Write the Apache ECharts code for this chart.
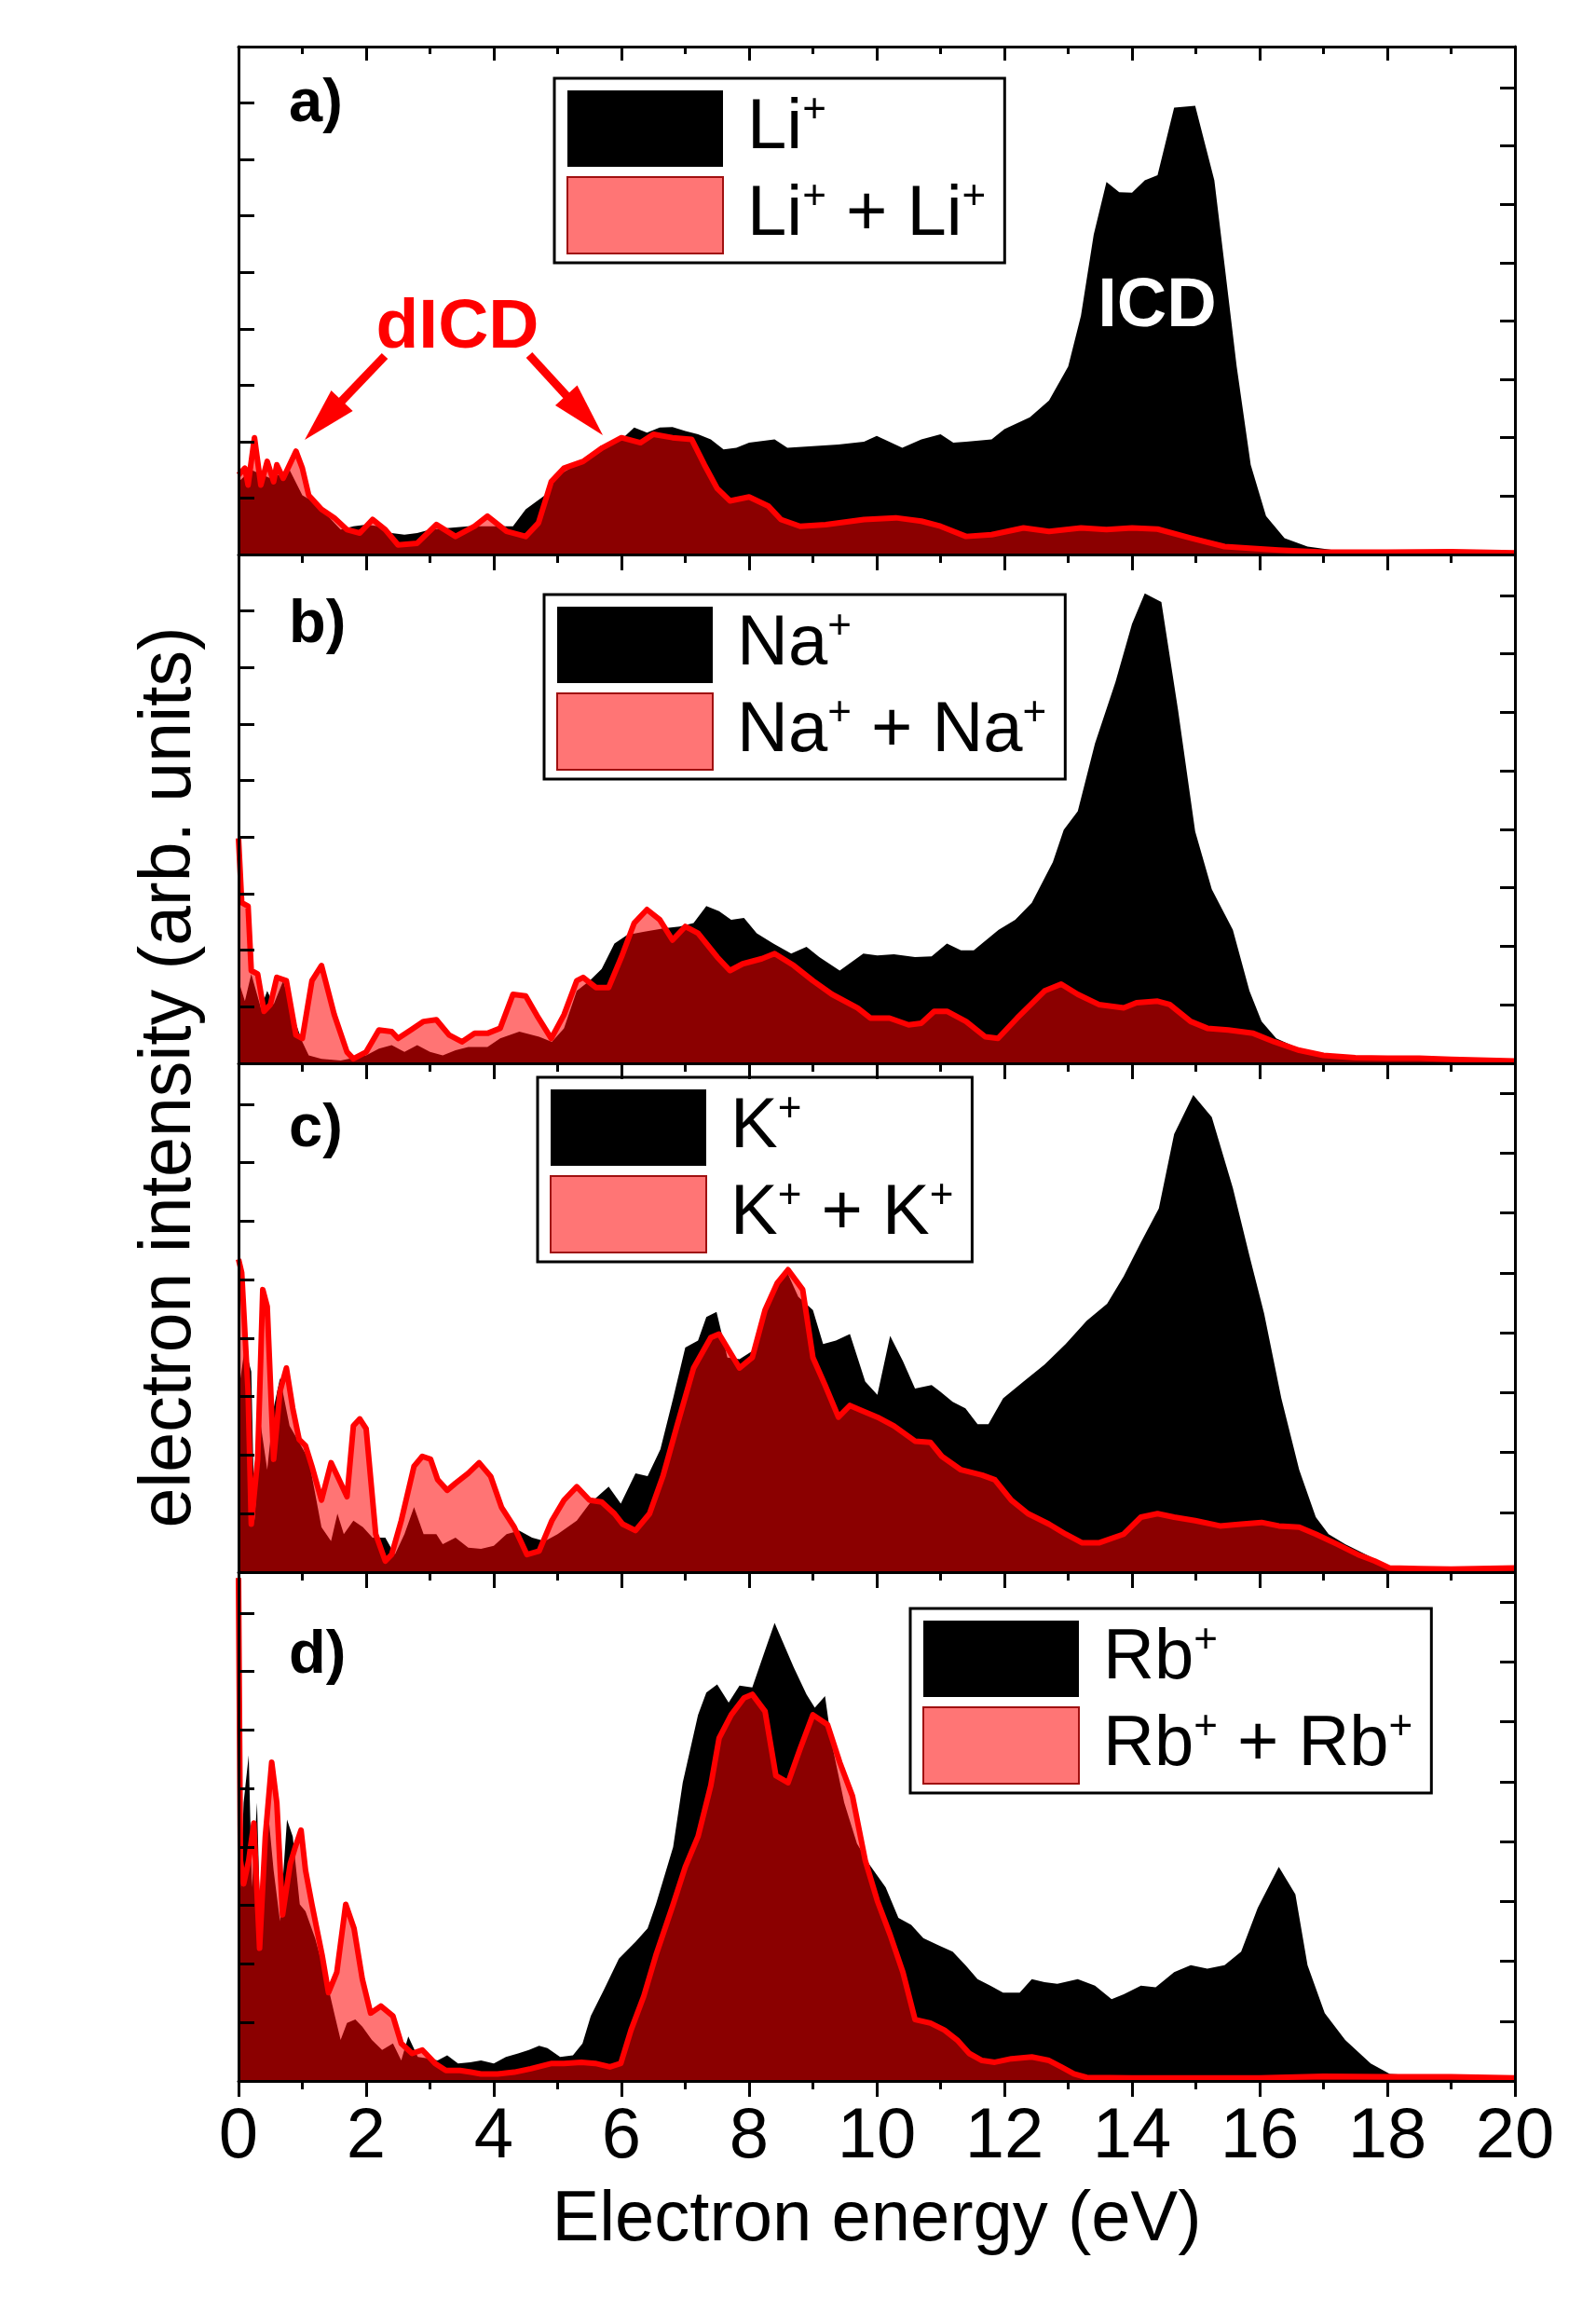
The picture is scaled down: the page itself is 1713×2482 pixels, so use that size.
<!DOCTYPE html>
<html>
<head>
<meta charset="utf-8">
<script src="https://cdn.jsdelivr.net/npm/echarts@6.0.0/dist/echarts.min.js"></script>
<style>
  html, body { margin: 0; padding: 0; background: #fff; }
  #chart { width: 1713px; height: 2482px; }
</style>
</head>
<body>
<div id="chart"></div>
<script>
// spectra, [electron energy (eV), intensity (arb. units)]
var liSingle = [[0,1.29],[0.2,1.5],[0.5,1.35],[0.8,1.5],[1.0,1.05],[1.2,0.92],[1.4,0.68],[1.6,0.44],[1.8,0.5],[2.0,0.53],[2.2,0.5],[2.4,0.38],[2.6,0.35],[2.8,0.38],[3.0,0.44],[3.3,0.47],[3.6,0.5],[4.0,0.5],[4.3,0.5],[4.5,0.8],[4.8,1.05],[5.0,1.4],[5.3,1.59],[5.6,1.8],[6.0,2.04],[6.2,2.25],[6.4,2.16],[6.6,2.25],[6.8,2.26],[7.0,2.19],[7.2,2.13],[7.4,2.04],[7.6,1.86],[7.8,1.89],[8.0,1.98],[8.4,2.04],[8.6,1.89],[9.0,1.92],[9.4,1.95],[9.8,2.0],[10.0,2.1],[10.4,1.89],[10.7,2.04],[11.0,2.13],[11.2,1.98],[11.4,2.0],[11.8,2.04],[12.0,2.22],[12.4,2.43],[12.7,2.73],[13.0,3.33],[13.2,4.23],[13.4,5.67],[13.6,6.6],[13.8,6.42],[14.0,6.41],[14.2,6.63],[14.4,6.72],[14.66,7.92],[14.99,7.95],[15.29,6.63],[15.45,5.13],[15.64,3.33],[15.86,1.59],[16.1,0.68],[16.39,0.29],[16.75,0.14],[17.15,0.08],[18,0.04],[20,0.04]];
var liPair = [[0,1.41],[0.1,1.53],[0.15,1.23],[0.25,2.07],[0.35,1.23],[0.45,1.65],[0.55,1.29],[0.6,1.59],[0.7,1.35],[0.9,1.83],[1.0,1.53],[1.1,1.05],[1.3,0.8],[1.5,0.65],[1.7,0.44],[1.9,0.38],[2.1,0.62],[2.3,0.44],[2.5,0.17],[2.8,0.2],[3.1,0.53],[3.4,0.32],[3.7,0.5],[3.9,0.68],[4.2,0.41],[4.5,0.32],[4.7,0.56],[4.9,1.29],[5.1,1.53],[5.4,1.65],[5.7,1.89],[6.0,2.07],[6.3,1.98],[6.5,2.13],[6.8,2.07],[7.1,2.04],[7.3,1.59],[7.5,1.17],[7.7,0.95],[8.0,1.02],[8.3,0.86],[8.5,0.62],[8.8,0.5],[9.2,0.53],[9.8,0.62],[10.3,0.65],[10.7,0.59],[11.0,0.5],[11.4,0.32],[11.8,0.35],[12.3,0.47],[12.7,0.41],[13.2,0.47],[13.6,0.44],[14.0,0.47],[14.4,0.45],[14.92,0.29],[15.45,0.14],[15.84,0.11],[16.3,0.08],[17,0.04],[18,0.04],[19,0.05],[20,0.03]];

var naSingle = [[0,1.46],[0.1,1.1],[0.2,1.58],[0.35,0.98],[0.45,1.28],[0.55,1.04],[0.7,1.46],[0.85,0.86],[1.0,0.38],[1.1,0.14],[1.3,0.08],[1.6,0.05],[2.0,0.14],[2.2,0.26],[2.4,0.32],[2.6,0.2],[2.8,0.32],[3.0,0.2],[3.2,0.14],[3.4,0.23],[3.6,0.29],[3.9,0.29],[4.1,0.44],[4.4,0.56],[4.71,0.47],[4.91,0.38],[5.1,0.62],[5.3,1.28],[5.5,1.46],[5.69,1.67],[5.89,2.12],[6.09,2.27],[6.36,2.33],[6.68,2.39],[6.91,2.42],[7.13,2.48],[7.33,2.78],[7.53,2.69],[7.72,2.54],[7.92,2.57],[8.12,2.3],[8.38,2.12],[8.66,1.94],[8.9,2.06],[9.1,1.88],[9.42,1.64],[9.79,1.94],[10.01,1.91],[10.27,1.93],[10.6,1.88],[10.86,1.89],[11.1,2.12],[11.32,2.0],[11.52,2.0],[11.91,2.36],[12.17,2.54],[12.43,2.84],[12.76,3.56],[12.93,4.13],[13.15,4.46],[13.42,5.66],[13.74,6.74],[14.0,7.77],[14.2,8.31],[14.46,8.16],[14.72,6.26],[14.99,4.1],[15.25,3.08],[15.58,2.36],[15.84,1.28],[16.03,0.74],[16.26,0.44],[16.62,0.26],[17.0,0.14],[17.5,0.08],[18,0.07],[19,0.05],[20,0.03]];
var naPair = [[0,3.98],[0.05,2.84],[0.15,2.78],[0.2,1.64],[0.3,1.58],[0.4,0.92],[0.5,1.04],[0.6,1.52],[0.75,1.46],[0.9,0.5],[1.0,0.44],[1.15,1.46],[1.3,1.73],[1.5,0.86],[1.7,0.2],[1.8,0.08],[2.0,0.2],[2.2,0.59],[2.4,0.56],[2.5,0.44],[2.7,0.59],[2.9,0.74],[3.1,0.77],[3.3,0.5],[3.5,0.38],[3.7,0.53],[3.9,0.53],[4.1,0.62],[4.3,1.22],[4.5,1.19],[4.7,0.8],[4.9,0.44],[5.1,0.86],[5.3,1.46],[5.4,1.52],[5.6,1.34],[5.8,1.34],[6.0,1.88],[6.2,2.48],[6.4,2.72],[6.6,2.54],[6.8,2.18],[7.0,2.42],[7.2,2.3],[7.5,1.88],[7.7,1.64],[7.9,1.76],[8.2,1.85],[8.4,1.94],[8.7,1.73],[9.0,1.46],[9.3,1.22],[9.7,0.98],[9.9,0.8],[10.2,0.8],[10.5,0.68],[10.7,0.71],[10.9,0.92],[11.1,0.92],[11.4,0.74],[11.7,0.47],[11.9,0.44],[12.2,0.8],[12.63,1.28],[12.89,1.4],[13.15,1.22],[13.48,1.04],[13.87,0.98],[14.07,1.07],[14.4,1.1],[14.59,1.04],[14.92,0.74],[15.18,0.62],[15.51,0.59],[15.9,0.53],[16.23,0.38],[16.62,0.23],[17.0,0.14],[17.5,0.1],[18,0.09],[18.5,0.09],[19,0.07],[20,0.04]];

var kSingle = [[0,3.09],[0.1,3.84],[0.2,3.43],[0.25,0.88],[0.35,2.5],[0.45,1.75],[0.55,2.8],[0.65,3.32],[0.8,2.5],[0.95,2.22],[1.1,1.93],[1.3,0.77],[1.45,0.53],[1.55,1.0],[1.65,0.65],[1.8,0.88],[1.95,0.77],[2.1,0.59],[2.3,0.59],[2.45,0.3],[2.6,0.65],[2.75,1.11],[2.9,0.65],[3.1,0.65],[3.2,0.48],[3.4,0.59],[3.6,0.42],[3.8,0.4],[4.0,0.45],[4.2,0.65],[4.4,0.71],[4.6,0.59],[4.8,0.53],[5.0,0.65],[5.3,0.88],[5.5,1.17],[5.8,1.46],[5.99,1.17],[6.22,1.69],[6.41,1.64],[6.61,2.1],[6.81,2.97],[7.0,3.84],[7.2,3.96],[7.33,4.36],[7.49,4.45],[7.66,3.67],[7.85,3.64],[8.05,3.78],[8.25,4.48],[8.4,4.88],[8.6,5.12],[8.77,4.71],[9.0,4.48],[9.16,3.9],[9.36,3.96],[9.58,4.07],[9.82,3.26],[10.01,3.03],[10.21,4.04],[10.41,3.61],[10.6,3.14],[10.86,3.2],[10.99,3.09],[11.19,2.91],[11.39,2.8],[11.58,2.53],[11.75,2.53],[11.98,2.97],[12.3,3.26],[12.63,3.55],[12.96,3.9],[13.29,4.3],[13.61,4.59],[13.87,5.06],[14.14,5.64],[14.42,6.22],[14.66,7.49],[14.96,8.16],[15.25,7.78],[15.58,6.57],[15.84,5.41],[16.07,4.42],[16.34,2.97],[16.62,1.75],[16.88,0.94],[17.08,0.65],[17.34,0.48],[17.67,0.3],[18.04,0.1],[18.5,0.07],[19,0.06],[20,0.06]];
var kPair = [[0,5.35],[0.05,5.12],[0.15,3.09],[0.2,0.82],[0.3,1.93],[0.38,4.83],[0.45,4.54],[0.55,1.93],[0.65,3.09],[0.75,3.49],[0.85,2.8],[0.95,2.27],[1.05,2.16],[1.15,1.81],[1.3,1.23],[1.45,1.87],[1.55,1.64],[1.7,1.29],[1.8,2.5],[1.9,2.62],[2.0,2.45],[2.15,0.65],[2.3,0.19],[2.4,0.3],[2.55,0.88],[2.75,1.81],[2.88,1.98],[3.01,1.93],[3.12,1.58],[3.27,1.4],[3.4,1.52],[3.6,1.69],[3.77,1.87],[3.95,1.64],[4.12,1.11],[4.32,0.77],[4.52,0.3],[4.71,0.36],[4.91,0.88],[5.1,1.23],[5.3,1.46],[5.5,1.23],[5.69,1.2],[5.89,1.0],[6.02,0.82],[6.22,0.71],[6.44,1.0],[6.65,1.64],[6.87,2.5],[7.13,3.49],[7.4,4.01],[7.53,4.07],[7.85,3.49],[8.05,3.67],[8.25,4.48],[8.44,4.94],[8.61,5.17],[8.84,4.83],[9.0,3.67],[9.19,3.2],[9.4,2.65],[9.58,2.85],[9.75,2.77],[10.01,2.65],[10.27,2.5],[10.6,2.24],[10.84,2.22],[11.02,1.98],[11.32,1.75],[11.65,1.66],[11.85,1.58],[12.11,1.23],[12.37,1.0],[12.7,0.82],[12.96,0.65],[13.22,0.5],[13.48,0.5],[13.87,0.65],[14.14,0.94],[14.4,1.0],[14.66,0.94],[14.99,0.88],[15.38,0.79],[15.71,0.82],[16.03,0.85],[16.3,0.79],[16.62,0.77],[16.88,0.65],[17.21,0.48],[17.54,0.3],[17.8,0.19],[18.04,0.07],[18.5,0.06],[19,0.05],[20,0.07]];

var rbSingle = [[0,2.44],[0.08,4.76],[0.16,5.57],[0.21,3.31],[0.29,4.76],[0.35,2.27],[0.46,4.64],[0.55,3.6],[0.65,2.73],[0.76,4.47],[0.85,4.18],[0.96,3.02],[1.05,2.9],[1.2,2.44],[1.4,1.63],[1.51,1.11],[1.6,0.7],[1.7,0.99],[1.83,1.05],[1.94,0.93],[2.09,0.7],[2.25,0.53],[2.42,0.64],[2.55,0.35],[2.66,0.76],[2.81,0.41],[3.01,0.38],[3.12,0.35],[3.27,0.44],[3.44,0.3],[3.63,0.32],[3.8,0.35],[4.0,0.3],[4.19,0.41],[4.38,0.47],[4.55,0.53],[4.71,0.6],[4.84,0.56],[5.04,0.41],[5.24,0.44],[5.39,0.64],[5.52,1.11],[5.73,1.57],[5.96,2.09],[6.22,2.38],[6.41,2.61],[6.54,3.02],[6.81,4.0],[6.96,5.1],[7.2,6.26],[7.33,6.64],[7.5,6.78],[7.68,6.47],[7.85,6.76],[8.05,6.73],[8.25,7.36],[8.4,7.83],[8.7,7.07],[8.9,6.61],[9.03,6.38],[9.19,6.58],[9.29,5.8],[9.49,4.76],[9.69,4.06],[9.88,3.71],[10.14,3.31],[10.34,2.79],[10.54,2.67],[10.73,2.44],[10.97,2.32],[11.19,2.21],[11.39,1.98],[11.58,1.74],[11.78,1.63],[11.98,1.51],[12.24,1.51],[12.43,1.74],[12.63,1.69],[12.83,1.66],[13.15,1.74],[13.42,1.63],[13.68,1.4],[13.87,1.48],[14.14,1.63],[14.37,1.6],[14.66,1.86],[14.92,1.98],[15.18,1.92],[15.45,1.98],[15.71,2.21],[15.97,2.96],[16.3,3.66],[16.56,3.19],[16.75,1.98],[17.02,1.16],[17.34,0.7],[17.74,0.3],[18.04,0.12],[18.5,0.09],[19,0.1],[20,0.09]];
var rbPair = [[0,8.6],[0.03,3.77],[0.08,3.37],[0.16,3.77],[0.24,4.41],[0.33,2.27],[0.42,4.18],[0.52,5.45],[0.6,4.76],[0.69,2.84],[0.81,3.71],[0.89,4.0],[0.98,4.29],[1.05,3.6],[1.15,3.02],[1.31,2.15],[1.41,1.51],[1.54,1.86],[1.68,3.02],[1.81,2.61],[1.94,1.74],[2.07,1.16],[2.23,1.28],[2.42,1.11],[2.55,0.64],[2.72,0.47],[2.88,0.53],[3.08,0.3],[3.25,0.18],[3.47,0.18],[3.64,0.15],[3.8,0.12],[4.06,0.12],[4.32,0.15],[4.58,0.21],[4.91,0.3],[5.1,0.3],[5.37,0.32],[5.59,0.3],[5.82,0.24],[5.99,0.3],[6.15,0.87],[6.35,1.45],[6.54,2.15],[6.81,3.02],[7.0,3.66],[7.2,4.18],[7.4,5.05],[7.53,5.86],[7.72,6.26],[7.92,6.55],[8.05,6.61],[8.25,6.32],[8.42,5.22],[8.61,5.1],[8.8,5.68],[9.0,6.26],[9.23,6.09],[9.42,5.45],[9.62,4.87],[9.82,3.77],[10.01,3.08],[10.21,2.5],[10.41,1.86],[10.6,1.05],[10.84,0.99],[11.06,0.87],[11.26,0.7],[11.45,0.47],[11.65,0.35],[11.85,0.32],[12.11,0.38],[12.43,0.41],[12.7,0.35],[12.89,0.24],[13.09,0.12],[13.29,0.06],[14,0.05],[15,0.05],[16,0.05],[17,0.08],[18,0.07],[19,0.07],[20,0.05]];

var ions = ['Li', 'Na', 'K', 'Rb'];
var singles = [liSingle, naSingle, kSingle, rbSingle];
var pairs = [liPair, naPair, kPair, rbPair];
var panelLabels = ['a)', 'b)', 'c)', 'd)'];

// layout
var FONT = '"Liberation Sans", Arial, Helvetica, sans-serif';
var plotLeft = 256, plotWidth = 1370;
var panelTop = [50, 595, 1141, 1687];
var panelHeight = [545, 546, 546, 546];
var leftMax = [9, 9, 8.7, 8.7];
var rightMax = [8.7, 8.7, 8.5, 8.5];
var legendPos = [[595, 84], [584, 638], [577, 1156], [977, 1726]];
var labelOffset = [62, 76, 71, 90];

var black = '#000';
var tickStyle = { color: black, width: 3 };

var chart = echarts.init(document.getElementById('chart'));

var grid = [], xAxis = [], yAxis = [], series = [], legend = [], graphic = [];

function hiddenAxis(gi, pos) {
  return { gridIndex: gi, type: 'value', position: pos, min: 0, max: 1, show: false };
}

for (var i = 0; i < 4; i++) {
  grid.push({ left: plotLeft, top: panelTop[i], width: plotWidth, height: panelHeight[i] });

  xAxis.push({
    gridIndex: i, type: 'value', position: 'bottom', min: 0, max: 20, interval: 2, z: 10,
    axisLine: { onZero: false, lineStyle: tickStyle },
    axisTick: { inside: false, length: 17, lineStyle: tickStyle },
    minorTick: { show: true, splitNumber: 2, length: 9, lineStyle: tickStyle },
    splitLine: { show: false },
    axisLabel: { show: i === 3, color: black, fontSize: 76, fontFamily: FONT, margin: 23 },
    name: i === 3 ? 'Electron energy (eV)' : '',
    nameLocation: 'middle', nameGap: 112,
    nameTextStyle: { color: black, fontSize: 76, fontFamily: FONT }
  });

  yAxis.push({
    gridIndex: i, type: 'value', position: 'left', min: 0, max: leftMax[i], interval: 1, z: 10,
    axisLine: { show: true, onZero: false, lineStyle: tickStyle },
    axisTick: { show: true, inside: true, length: 17, lineStyle: tickStyle },
    minorTick: { show: false },
    axisLabel: { show: false }, splitLine: { show: false }
  });
  yAxis.push({
    gridIndex: i, type: 'value', position: 'right', min: 0, max: rightMax[i], interval: 1, z: 10,
    axisLine: { show: true, onZero: false, lineStyle: tickStyle },
    axisTick: { show: true, inside: true, length: 16, lineStyle: tickStyle },
    minorTick: { show: false },
    axisLabel: { show: false }, splitLine: { show: false }
  });

  var oneName = ions[i] + '+';
  var twoName = ions[i] + '+ + ' + ions[i] + '+';

  series.push({
    name: oneName, type: 'line', xAxisIndex: i, yAxisIndex: 2 * i,
    data: singles[i], symbol: 'none', z: 2,
    itemStyle: { color: black },
    lineStyle: { width: 0, color: black },
    areaStyle: { color: black, opacity: 1 }
  });
  series.push({
    name: twoName, type: 'line', xAxisIndex: i, yAxisIndex: 2 * i,
    data: pairs[i], symbol: 'none', z: 3,
    itemStyle: { color: '#ff0000' },
    lineStyle: { width: 6, color: '#ff0000', join: 'round' },
    areaStyle: { color: 'rgba(255,0,0,0.545)', opacity: 1 }
  });

  legend.push({
    left: legendPos[i][0], top: legendPos[i][1],
    orient: 'vertical', icon: 'rect', selectedMode: false,
    itemWidth: 167, itemHeight: 82, itemGap: 10,
    padding: [13, 20, 9, 13],
    borderColor: black, borderWidth: 3, backgroundColor: '#fff',
    data: [
      { name: oneName, itemStyle: { color: black, borderWidth: 0 } },
      { name: twoName, itemStyle: { color: '#ff7575', borderColor: '#a01010', borderWidth: 2 } }
    ],
    formatter: function (name) { return name.replace(/([A-Za-z])\+/g, '$1{sup|+}'); },
    textStyle: {
      color: black, fontSize: 76, fontFamily: FONT, lineHeight: 82,
      padding: [0, 0, 0, 21],
      rich: { sup: { fontSize: 44, fontFamily: FONT, color: black, lineHeight: 50, verticalAlign: 'top' } }
    }
  });

  graphic.push({
    type: 'text', x: 310, y: panelTop[i] + labelOffset[i], z: 100,
    style: { text: panelLabels[i], fontSize: 65, fontWeight: 'bold', fontFamily: FONT, fill: black, verticalAlign: 'middle' }
  });
}

// a separate grid that only carries the top frame with its inward ticks
grid.push({ left: plotLeft, top: panelTop[0], width: plotWidth, height: panelHeight[0] });
xAxis.push({
  gridIndex: 4, type: 'value', position: 'top', min: 0, max: 20, interval: 2, z: 10,
  axisLine: { onZero: false, lineStyle: tickStyle },
  axisTick: { inside: true, length: 15, lineStyle: tickStyle },
  minorTick: { show: true, splitNumber: 2, length: 8, lineStyle: tickStyle },
  splitLine: { show: false }, axisLabel: { show: false }
});
yAxis.push(hiddenAxis(4, 'left'));

function arrow(x1, y1, x2, y2) {
  var dx = x2 - x1, dy = y2 - y1, len = Math.sqrt(dx * dx + dy * dy);
  var ux = dx / len, uy = dy / len, head = 58, half = 16;
  var bx = x2 - ux * head, by = y2 - uy * head;
  graphic.push({
    type: 'line', z: 100,
    shape: { x1: x1, y1: y1, x2: bx + ux * 4, y2: by + uy * 4 },
    style: { stroke: '#ff0000', lineWidth: 9 }
  });
  graphic.push({
    type: 'polygon', z: 100,
    shape: { points: [[x2, y2], [bx - uy * half, by + ux * half], [bx + uy * half, by - ux * half]] },
    style: { fill: '#ff0000' }
  });
}
arrow(413, 382, 327, 472);
arrow(568, 381, 647, 467);

graphic.push({
  type: 'text', x: 491, y: 352, z: 100,
  style: { text: 'dICD', fontSize: 75, fontWeight: 'bold', fontFamily: FONT, fill: '#ff0000', align: 'center', verticalAlign: 'middle' }
});
graphic.push({
  type: 'text', x: 1242, y: 330, z: 100,
  style: { text: 'ICD', fontSize: 74, fontWeight: 'bold', fontFamily: FONT, fill: '#fff', align: 'center', verticalAlign: 'middle' }
});
graphic.push({
  type: 'text', x: 183, y: 1156, rotation: Math.PI / 2, z: 100,
  style: { text: 'electron intensity (arb. units)', fontSize: 77, fontFamily: FONT, fill: black, align: 'center', verticalAlign: 'middle' }
});

chart.setOption({
  animation: false,
  backgroundColor: '#fff',
  grid: grid,
  xAxis: xAxis,
  yAxis: yAxis,
  legend: legend,
  series: series,
  graphic: graphic
});
</script>
</body>
</html>
